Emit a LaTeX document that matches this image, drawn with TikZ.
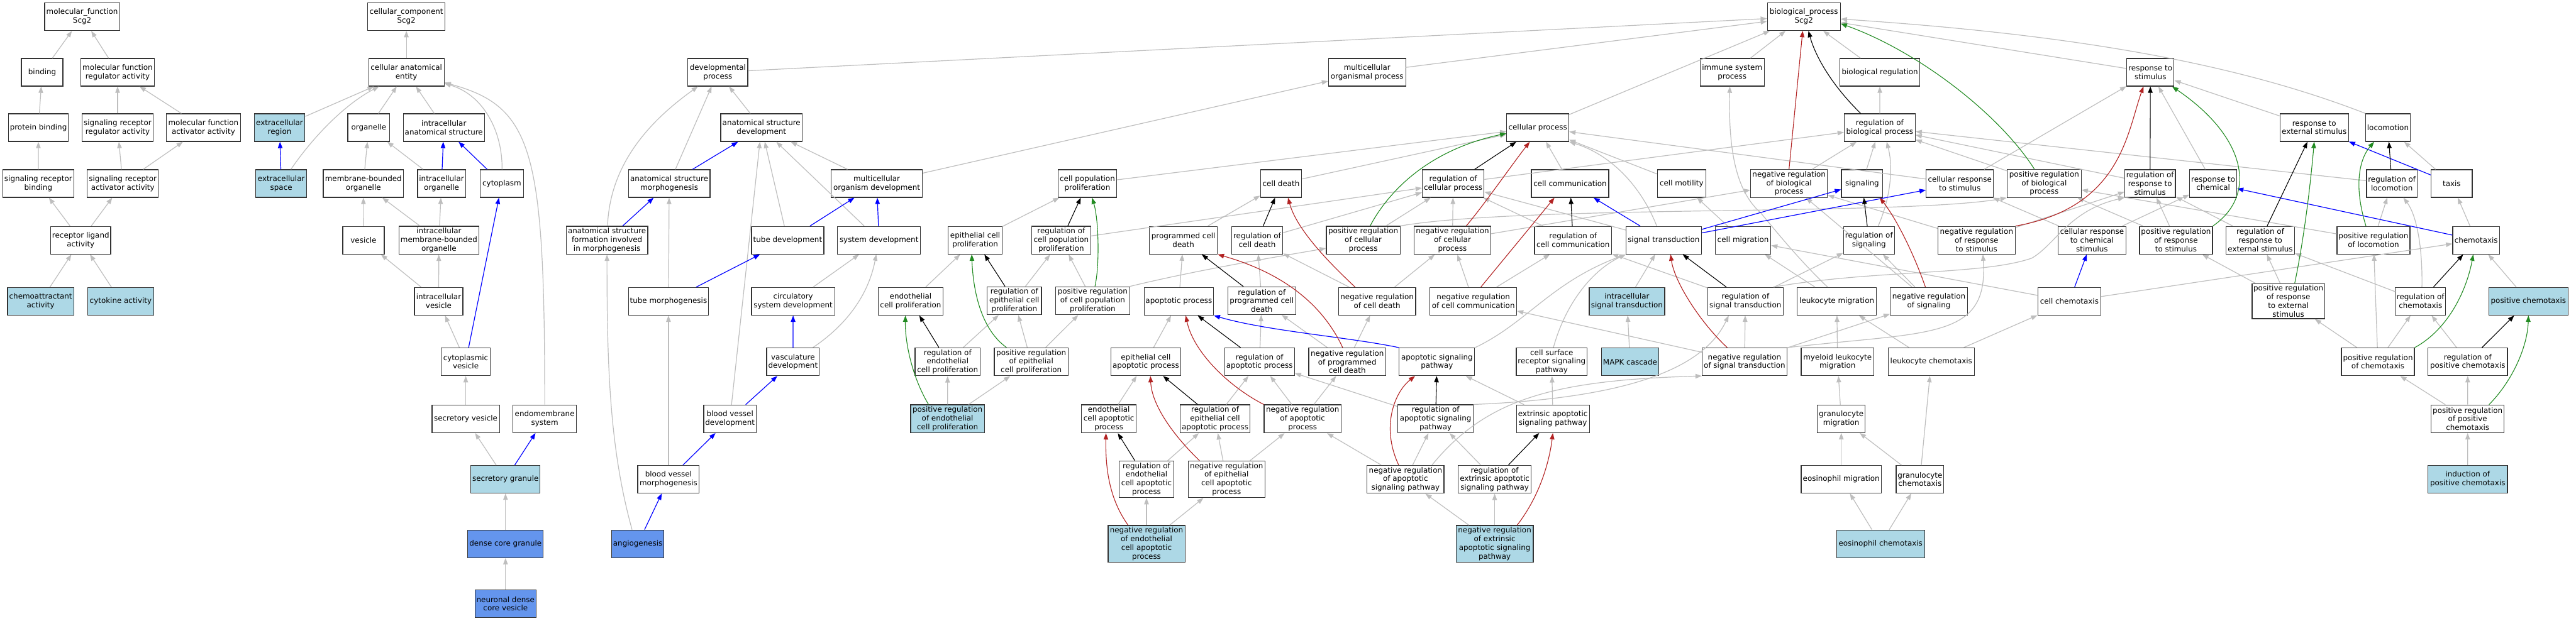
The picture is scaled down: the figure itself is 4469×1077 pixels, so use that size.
\documentclass[tikz,border=0pt]{standalone}
\usepackage{fontspec}
\setmainfont{DejaVu Sans}
\usetikzlibrary{arrows.meta}
\definecolor{eg}{HTML}{BEBEBE}
\definecolor{lb}{HTML}{ADD8E6}
\definecolor{cb}{HTML}{6495ED}
\definecolor{fb}{HTML}{B22222}
\definecolor{fg}{HTML}{228B22}
\definecolor{bd}{HTML}{333333}
\newcommand\gon[6][]{\node[gobox,minimum width=#5pt,#1] (#2) at (#3,#4) {#6};}
\tikzset{
 gobox/.style={draw=bd,line width=1.3pt,fill=white,align=center,inner xsep=2pt,inner ysep=3pt,minimum height=48pt,font=\fontsize{13}{15}\selectfont},
 hd/.style={-{Triangle[length=11pt,width=8pt]}},
 ge/.style={draw=eg,line width=1.3pt,hd},
 be/.style={draw=blue,line width=1.3pt,hd},
 ke/.style={draw=black,line width=1.2pt,hd},
 re/.style={draw=fb,line width=1.2pt,hd},
 ne/.style={draw=fg,line width=1.2pt,hd},
}
\begin{document}
\begin{tikzpicture}[x=1pt,y=-1pt]
\fill[white] (0,0) rectangle (4469,1077);
\useasboundingbox (0,0) rectangle (4469,1077);
% ---------- molecular function ----------
\gon{mf}{142.5}{29}{130}{molecular\_function\\Scg2}
\gon{binding}{73.2}{125.5}{72}{binding}
\gon{mfra}{204}{125.5}{128}{molecular function\\regulator activity}
\gon{protbind}{66.6}{221.5}{104}{protein binding}
\gon{srra}{204}{221.5}{123}{signaling receptor\\regulator activity}
\gon{mfaa}{352.9}{221.5}{128}{molecular function\\activator activity}
\gon{srb}{66.4}{318.5}{123}{signaling receptor\\binding}
\gon{sraa}{213}{318.5}{123}{signaling receptor\\activator activity}
\gon{rla}{140}{417}{104}{receptor ligand\\activity}
\gon[fill=lb]{chemoact}{70.5}{523}{115}{chemoattractant\\activity}
\gon[fill=lb]{cytokine}{209.4}{523}{114}{cytokine activity}
% ---------- cellular component ----------
\gon{cc}{705}{29}{134}{cellular\_component\\Scg2}
\gon{cae}{705}{125.5}{131}{cellular anatomical\\entity}
\gon[fill=lb]{exreg}{485}{221.5}{88}{extracellular\\region}
\gon{organelle}{639.8}{221.5}{73}{organelle}
\gon{ias}{770}{221.5}{141}{intracellular\\anatomical structure}
\gon[fill=lb]{exspace}{487.9}{318.5}{88}{extracellular\\space}
\gon{mbo}{630.4}{318.5}{139}{membrane-bounded\\organelle}
\gon{io}{766}{318.5}{83}{intracellular\\organelle}
\gon{cytoplasm}{870.6}{318.5}{75}{cytoplasm}
\gon{vesicle}{630.6}{417}{72}{vesicle}
\gon{imbo}{761.4}{417}{138}{intracellular\\membrane-bounded\\organelle}
\gon{iv}{761}{523}{84}{intracellular\\vesicle}
\gon{cytves}{808}{628}{85}{cytoplasmic\\vesicle}
\gon{secves}{808}{727}{117}{secretory vesicle}
\gon{endomem}{945}{727}{110}{endomembrane\\system}
\gon[fill=lb]{secgran}{877}{832}{120}{secretory granule}
\gon[fill=cb]{dcg}{877}{944}{131}{dense core granule}
\gon[fill=cb]{ndcv}{877}{1048}{106}{neuronal dense\\core vesicle}
% ---------- development ----------
\gon{devproc}{1245.3}{125.5}{104}{developmental\\process}
\gon{asd}{1321}{221.5}{141.5}{anatomical structure\\development}
\gon{asm}{1161}{318.5}{141.5}{anatomical structure\\morphogenesis}
\gon{mod}{1521}{318.5}{158}{multicellular\\organism development}
\gon{asfim}{1053}{417}{141.5}{anatomical structure\\formation involved\\in morphogenesis}
\gon{tubedev}{1366.5}{417}{125.6}{tube development}
\gon{sysdev}{1525}{417}{144}{system development}
\gon{tubemorph}{1159.7}{523}{139}{tube morphogenesis}
\gon{circ}{1376}{523}{144.4}{circulatory\\system development}
\gon{vasc}{1375.7}{628}{91.6}{vasculature\\development}
\gon{bvd}{1266.4}{727}{91}{blood vessel\\development}
\gon{bvm}{1159.7}{832}{106.6}{blood vessel\\morphogenesis}
\gon[fill=cb]{angio}{1106.5}{944}{91}{angiogenesis}
% ---------- proliferation ----------
\gon{cpp}{1886.4}{318.5}{102}{cell population\\proliferation}
\gon{epcp}{1691.8}{417}{94}{epithelial cell\\proliferation}
\gon{regcpp}{1841}{417}{102}{regulation of\\cell population\\proliferation}
\gon{endocp}{1579.8}{523}{112.4}{endothelial\\cell proliferation}
\gon{regepcp}{1759.7}{522}{94}{regulation of\\epithelial cell\\proliferation}
\gon{posregcpp}{1895.6}{522}{128.5}{positive regulation\\of cell population\\proliferation}
\gon{regendocp}{1644}{628}{113}{regulation of\\endothelial\\cell proliferation}
\gon{posregepcp}{1789}{628}{128}{positive regulation\\of epithelial\\cell proliferation}
\gon[fill=lb]{posregendocp}{1643.8}{727}{128}{positive regulation\\of endothelial\\cell proliferation}
% ---------- death ----------
\gon{cd}{2222.5}{318.5}{71.6}{cell death}
\gon{pcd}{2053}{417}{117.8}{programmed cell\\death}
\gon{regcd}{2181}{417}{89}{regulation of\\cell death}
\gon{apop}{2045}{523}{120}{apoptotic process}
\gon{regpcd}{2189}{522}{117.6}{regulation of\\programmed cell\\death}
\gon{epap}{1987.8}{628}{120.7}{epithelial cell\\apoptotic process}
\gon{regapop}{2185}{628}{121}{regulation of\\apoptotic process}
\gon{endap}{1923.7}{727}{94.5}{endothelial\\cell apoptotic\\process}
\gon{regepap}{2108}{727}{120.7}{regulation of\\epithelial cell\\apoptotic process}
\gon{negregapop}{2259.8}{727}{133.6}{negative regulation\\of apoptotic\\process}
\gon{regendap}{1989}{832}{94.5}{regulation of\\endothelial\\cell apoptotic\\process}
\gon{negregepap}{2127.9}{832}{133.3}{negative regulation\\of epithelial\\cell apoptotic\\process}
\gon[fill=lb]{negregendap}{1989}{944}{133.3}{negative regulation\\of endothelial\\cell apoptotic\\process}
% ---------- cellular process ----------
\gon{mop}{2371.7}{125.5}{133.8}{multicellular\\organismal process}
\gon{cellproc}{2667.8}{221.5}{107.6}{cellular process}
\gon{regcellproc}{2521}{318.5}{107}{regulation of\\cellular process}
\gon{cellcomm}{2723.8}{318.5}{134.3}{cell communication}
\gon{cellmot}{2917.3}{318.5}{84}{cell motility}
\gon{posregcellproc}{2365}{417}{128}{positive regulation\\of cellular\\process}
\gon{negregcellproc}{2519.8}{417}{133.3}{negative regulation\\of cellular\\process}
\gon{regcellcomm}{2729}{417}{133.8}{regulation of\\cell communication}
\gon{sigtrans}{2886.2}{417}{130.4}{signal transduction}
\gon{negregcd}{2389}{523}{133.8}{negative regulation\\of cell death}
\gon{negregcellcomm}{2556}{523}{150.2}{negative regulation\\of cell communication}
\gon[fill=lb]{istrans}{2822.5}{523}{130.9}{intracellular\\signal transduction}
\gon{negregpcd}{2337.3}{628}{133.8}{negative regulation\\of programmed\\cell death}
\gon{asp}{2492.9}{628}{131}{apoptotic signaling\\pathway}
\gon{csrsp}{2692}{628}{123}{cell surface\\receptor signaling\\pathway}
\gon[fill=lb]{mapk}{2828}{628}{99.4}{MAPK cascade}
\gon{regasp}{2490.5}{727}{131}{regulation of\\apoptotic signaling\\pathway}
\gon{eas}{2694}{727}{126.5}{extrinsic apoptotic\\signaling pathway}
\gon{negregasp}{2438.4}{832}{133.3}{negative regulation\\of apoptotic\\signaling pathway}
\gon{regeasp}{2593}{832}{126}{regulation of\\extrinsic apoptotic\\signaling pathway}
\gon[fill=lb]{negregeasp}{2593}{944}{133.8}{negative regulation\\of extrinsic\\apoptotic signaling\\pathway}
% ---------- biological process ----------
\gon{bp}{3129.4}{29}{126.5}{biological\_process\\Scg2}
\gon{isp}{3005}{125.5}{111}{immune system\\process}
\gon{bioreg}{3261.3}{125.5}{138}{biological regulation}
\gon{rts}{3730.6}{125.5}{82}{response to\\stimulus}
\gon{regbp}{3261}{221.5}{123}{regulation of\\biological process}
\gon{negregbp}{3103.7}{318.5}{133.3}{negative regulation\\of biological\\process}
\gon{signaling}{3230.5}{318.5}{71.7}{signaling}
\gon{crs}{3400}{318.5}{116.8}{cellular response\\to stimulus}
\gon{posregbp}{3546.3}{318.5}{128.5}{positive regulation\\of biological\\process}
\gon{regrts}{3730}{318.5}{87.7}{regulation of\\response to\\stimulus}
\gon{cellmig}{3024}{417}{96}{cell migration}
\gon{regsig}{3242.4}{417}{88.7}{regulation of\\signaling}
\gon{negregrts}{3429}{417}{133.8}{negative regulation\\of response\\to stimulus}
\gon{crcs}{3629.3}{417}{117.3}{cellular response\\to chemical\\stimulus}
\gon{posregrts}{3775}{417}{126.5}{positive regulation\\of response\\to stimulus}
\gon{regsigtrans}{3028}{523}{131}{regulation of\\signal transduction}
\gon{leukmig}{3186.6}{523}{137}{leukocyte migration}
\gon{negregsig}{3346.3}{523}{133.8}{negative regulation\\of signaling}
\gon{cellchemo}{3590}{523}{109.6}{cell chemotaxis}
\gon{negregsigtrans}{3026.5}{628}{147}{negative regulation\\of signal transduction}
\gon{myeleukmig}{3187.8}{628}{126}{myeloid leukocyte\\migration}
\gon{leukchemo}{3350.4}{628}{149.8}{leukocyte chemotaxis}
\gon{granmig}{3194.3}{727}{83}{granulocyte\\migration}
\gon{eosmig}{3194.3}{832}{139}{eosinophil migration}
\gon{granchemo}{3330.8}{832}{82.4}{granulocyte\\chemotaxis}
\gon[fill=lb]{eoschemo}{3262.5}{944}{153}{eosinophil chemotaxis}
% ---------- far right ----------
\gon{rext}{4014.8}{221.5}{118.8}{response to\\external stimulus}
\gon{locomotion}{4142.7}{221.5}{77}{locomotion}
\gon{rtc}{3839.6}{318.5}{81.4}{response to\\chemical}
\gon{regloc}{4149.5}{318.5}{87.7}{regulation of\\locomotion}
\gon{taxis}{4253.3}{318.5}{71.2}{taxis}
\gon{regrext}{3921.3}{417}{118.8}{regulation of\\response to\\external stimulus}
\gon{posregloc}{4117.6}{417}{126.5}{positive regulation\\of locomotion}
\gon{chemotaxis}{4295.7}{417}{81.4}{chemotaxis}
\gon{posregrext}{3970}{522.7}{126}{positive regulation\\of response\\to external\\stimulus}
\gon{regchemo}{4199.2}{523}{87.3}{regulation of\\chemotaxis}
\gon[fill=lb]{poschemo}{4386.4}{523}{137.7}{positive chemotaxis}
\gon{posregchemo}{4125.3}{628}{126.5}{positive regulation\\of chemotaxis}
\gon{regposchemo}{4281.1}{628}{137.7}{regulation of\\positive chemotaxis}
\gon{posregposchemo}{4281}{727}{126.5}{positive regulation\\of positive\\chemotaxis}
\gon[fill=lb]{indposchemo}{4281.1}{832}{137.7}{induction of\\positive chemotaxis}
% ---------- gray straight edges ----------
\foreach \a/\b in {binding/mf, mfra/mf, protbind/binding, srra/mfra, mfaa/mfra, srb/protbind, sraa/srra, sraa/mfaa, rla/srb, rla/sraa, chemoact/rla, cytokine/rla,
 cae/cc, exreg/cae, organelle/cae, ias/cae, mbo/organelle, io/organelle, vesicle/mbo, imbo/mbo, imbo/io, iv/vesicle, iv/imbo, cytves/iv, secves/cytves, secgran/secves, dcg/secgran, ndcv/dcg,
 devproc/bp, asd/devproc, asm/devproc, mod/asd, tubedev/asd, sysdev/asd, bvd/asd, mod/mop, tubemorph/asm, circ/sysdev, bvm/tubemorph,
 cpp/cellproc, epcp/cpp, endocp/epcp, regepcp/regcpp, posregcpp/regcpp, regcpp/regcellproc, regendocp/regepcp, posregepcp/regepcp, posregepcp/posregcpp, posregendocp/regendocp, posregendocp/posregepcp,
 cd/cellproc, pcd/cd, regcd/regcellproc, apop/pcd, regpcd/regcd, negregpcd/regpcd, negregpcd/negregcd, epap/apop, regapop/regpcd, negregapop/regapop, negregapop/negregpcd, endap/epap, regepap/regapop, negregepap/regepap, negregepap/negregapop, regendap/regepap, negregendap/regendap, negregendap/negregepap, negregcd/regcd, negregcd/negregcellproc,
 mop/bp, cellproc/bp, posregcellproc/regcellproc, negregcellproc/regcellproc, negregcellproc/negregbp, regcellproc/regbp, cellcomm/cellproc, cellmot/cellproc, crs/cellproc, negregcellcomm/regcellcomm, negregcellcomm/negregcellproc, regcellcomm/regcellproc, sigtrans/regcellproc, istrans/sigtrans, regsigtrans/regcellcomm, negregsigtrans/negregcellcomm, mapk/istrans, eas/asp, regasp/regapop, negregasp/negregapop, negregasp/regasp, regeasp/regasp, negregeasp/regeasp, negregeasp/negregasp, eas/csrsp, negregsigtrans/regsigtrans, negregsigtrans/negregsig,
 isp/bp, bioreg/bp, rts/bp, regbp/bioreg, negregbp/regbp, signaling/regbp, posregbp/regbp, regrts/regbp, regloc/regbp, crs/rts, cellmig/cellmot, leukmig/cellmig, regsigtrans/regsig, negregsig/regsig, negregsig/negregbp, negregrts/negregbp, negregrts/regrts, crcs/crs, crcs/rtc, posregrts/regrts, posregrts/posregbp, posregloc/posregbp, cellchemo/cellmig, cellchemo/chemotaxis, myeleukmig/leukmig, leukchemo/leukmig, leukchemo/cellchemo, granmig/myeleukmig, eosmig/granmig, granchemo/granmig, granchemo/leukchemo, eoschemo/eosmig, eoschemo/granchemo,
 rext/rts, rtc/rts, taxis/locomotion, regrext/regrts, posregrext/regrext, posregrext/posregrts, posregloc/regloc, chemotaxis/taxis, regchemo/regrext, poschemo/chemotaxis, posregchemo/posregrext, posregchemo/posregloc, posregchemo/regchemo, regposchemo/regchemo, posregposchemo/posregchemo, posregposchemo/regposchemo, indposchemo/posregposchemo}
 \draw[ge] (\a) -- (\b);
% ---------- gray curved edges ----------
\draw[ge] (exspace) .. controls (545,235) and (600,180) .. (cae);
\draw[ge] (cytoplasm) .. controls (872,230) and (840,165) .. (cae);
\draw[ge] (endomem) .. controls (945,260) and (925,185) .. (cae);
\draw[ge] (asfim) .. controls (1058,290) and (1120,215) .. (devproc);
\draw[ge] ([xshift=-10pt]angio.north) .. controls (1058,780) and (1053,640) .. (asfim);
\draw[ge] ([xshift=-12pt]vasc.north east) .. controls (1460,570) and (1505,520) .. (sysdev);
\draw[ge] ([xshift=-16pt]leukmig.north) .. controls (3120,450) and (3080,400) .. (3055,370) .. controls (3015,335) and (2998,270) .. ([xshift=-4pt]isp.south);
\draw[ge] ([xshift=16pt]regsig.north) .. controls (3285,330) and (3282,280) .. ([xshift=12pt]regbp.south);
\draw[ge] ([xshift=-12pt]sigtrans.north) .. controls (2850,330) and (2800,270) .. (cellproc.south east);
\draw[ge] ([xshift=3pt]csrsp.north) .. controls (2715,530) and (2760,470) .. (sigtrans.south west);
\draw[ge] (asp.north east) .. controls (2650,560) and (2690,490) .. (sigtrans.south west);
\draw[ge] ([xshift=46pt]negregasp.north) .. controls (2580,690) and (2700,660) .. (negregsigtrans.south west);
\draw[ge] (regasp.north east) .. controls (2850,690) and (2960,630) .. ([xshift=-29pt]regsigtrans.south);
\draw[ge] (negregsigtrans.north east) .. controls (3350,575) and (3450,590) .. ([xshift=11pt]negregrts.south);
\draw[ge] ([xshift=48pt]regsigtrans.north) .. controls (3250,468) and (3440,478) .. (3525,448) .. controls (3565,425) and (3590,365) .. (regrts.south west);
\draw[ge] (posregcellproc.north east) .. controls (2650,355) and (3300,375) .. (posregbp.south west);
\draw[ge] (posregcpp.north east) .. controls (2080,468) and (2220,445) .. ([yshift=-14pt]posregcellproc.west);
\draw[ge] ([xshift=2.5pt]regchemo.north) .. controls (4203,420) and (4190,370) .. ([xshift=20pt]regloc.south);
\draw[ge] (locomotion.north west) .. controls (3880,110) and (3600,60) .. ([yshift=-4pt]bp.east);
% ---------- blue (part of) ----------
\foreach \a/\b in {exspace/exreg, io/ias, cytoplasm/ias, cytves/cytoplasm, secgran/endomem, asm/asd, asfim/asm, tubedev/mod, sysdev/mod, tubemorph/tubedev, vasc/circ, bvd/vasc, bvm/bvd, angio/bvm, sigtrans/cellcomm, sigtrans/signaling, sigtrans/crs, cellchemo/crcs, chemotaxis/rtc, taxis/rext}
 \draw[be] (\a) -- (\b);
\draw[be] (asp.north west) .. controls (2340,585) and (2200,575) .. (apop.south east);
% ---------- black (regulates) ----------
\foreach \a/\b in {regcpp/cpp, regepcp/epcp, regendocp/endocp, regcd/cd, regpcd/pcd, regapop/apop, regepap/epap, regendap/endap, regcellproc/cellproc, regcellcomm/cellcomm, regsigtrans/sigtrans, regasp/asp, regeasp/eas, regsig/signaling, regrts/rts, regrext/rext, regloc/locomotion, regchemo/chemotaxis, regposchemo/poschemo}
 \draw[ke] (\a) -- (\b);
\draw[ke] ([xshift=-33pt]regbp.north) .. controls (3180,150) and (3150,100) .. ([xshift=8pt]bp.south);
% ---------- red (negatively regulates) ----------
\draw[re] ([xshift=13pt]negregcellcomm.north) -- ([xshift=-27pt]cellcomm.south);
\draw[re] (negregbp.north) -- ([xshift=-2pt]bp.south);
\draw[re] ([xshift=-38pt]negregcd.north) .. controls (2310,460) and (2250,400) .. ([xshift=12pt]cd.south);
\draw[re] ([xshift=-8pt]negregpcd.north) .. controls (2300,540) and (2240,478) .. (pcd.south east);
\draw[re] (negregapop.north west) .. controls (2130,670) and (2070,610) .. ([xshift=12pt]apop.south);
\draw[re] ([xshift=-47pt]negregepap.north) .. controls (2030,750) and (1998,700) .. ([xshift=8pt]epap.south);
\draw[re] ([xshift=-32pt]negregendap.north) .. controls (1920,860) and (1918,800) .. ([xshift=-5pt]endap.south);
\draw[re] ([xshift=-12pt]negregasp.north) .. controls (2395,740) and (2420,680) .. ([xshift=-38pt]asp.south);
\draw[re] ([xshift=39pt]negregeasp.north) .. controls (2672,860) and (2688,800) .. (eas.south);
\draw[re] ([xshift=24pt]negregcellproc.north) .. controls (2575,355) and (2620,290) .. ([xshift=-14pt]cellproc.south);
\draw[re] (negregrts.north east) .. controls (3680,360) and (3690,230) .. ([xshift=-12pt]rts.south);
\draw[re] ([xshift=-6pt]negregsig.north) .. controls (3320,440) and (3290,380) .. ([xshift=-6pt]signaling.south east);
\draw[re] ([xshift=-30pt]negregsigtrans.north) .. controls (2950,560) and (2905,490) .. ([xshift=12pt]sigtrans.south);
% ---------- green (positively regulates) ----------
\draw[ne] ([xshift=-13pt]posregloc.north) .. controls (4085,330) and (4090,280) .. ([xshift=-24pt]locomotion.south);
\draw[ne] ([xshift=4pt]posregcpp.north) .. controls (1908,460) and (1906,380) .. ([xshift=8pt]cpp.south);
\draw[ne] ([xshift=-43pt]posregepcp.north) .. controls (1700,570) and (1688,500) .. ([xshift=-6pt]epcp.south);
\draw[ne] ([xshift=-33pt]posregendocp.north) .. controls (1580,650) and (1570,590) .. ([xshift=-9pt]endocp.south);
\draw[ne] ([xshift=12pt]posregcellproc.north) .. controls (2410,330) and (2480,260) .. ([yshift=-10pt]cellproc.west);
\draw[ne] ([xshift=-17pt]posregbp.north) .. controls (3470,200) and (3330,90) .. ([yshift=-12pt]bp.east);
\draw[ne] (posregrts.north east) .. controls (3915,340) and (3900,240) .. ([xshift=-4pt]rts.south east);
\draw[ne] ([xshift=11pt]posregrext.north) .. controls (4000,400) and (4010,300) .. (rext.south);
\draw[ne] (posregchemo.north east) .. controls (4250,570) and (4280,500) .. ([xshift=-5pt]chemotaxis.south);
\draw[ne] ([xshift=37pt]posregposchemo.north) .. controls (4360,660) and (4385,600) .. (poschemo.south);
\end{tikzpicture}
\end{document}
